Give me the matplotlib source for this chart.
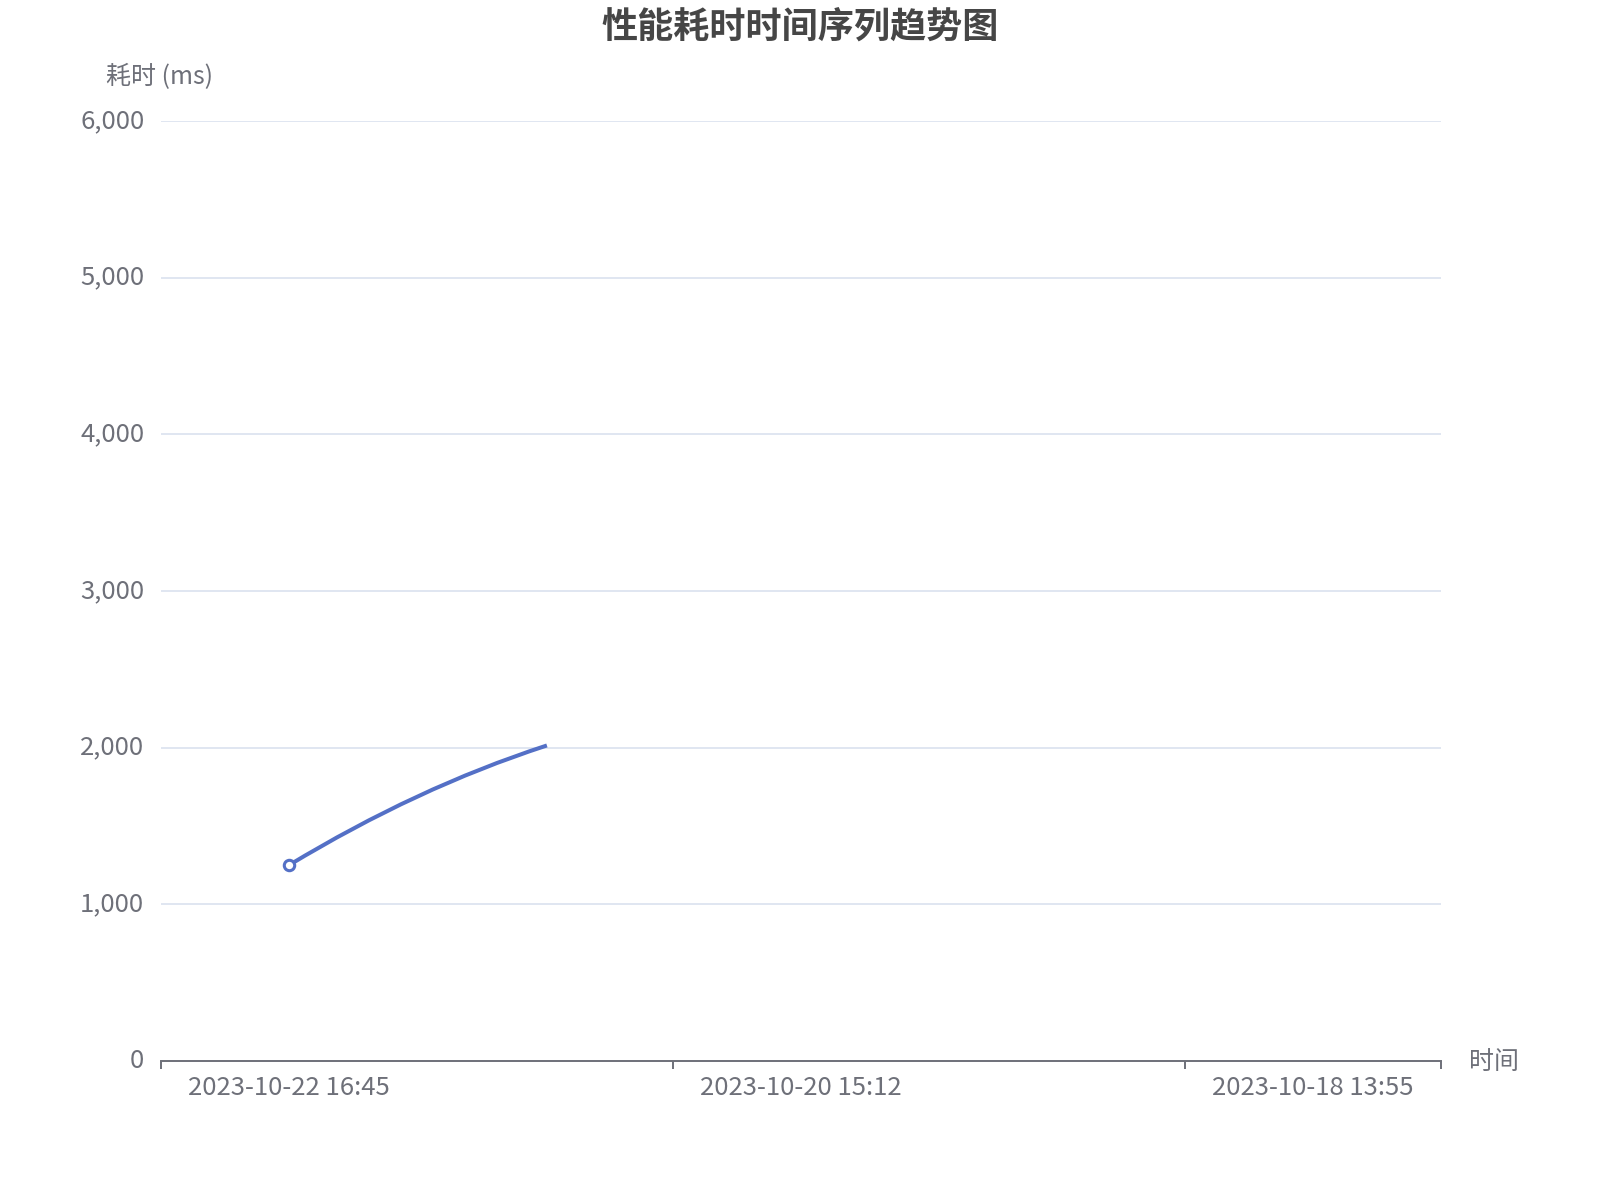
# 性能耗时时间序列趋势图を再現する
import matplotlib.pyplot as plt
from matplotlib.path import Path
from matplotlib.patches import PathPatch
from matplotlib.ticker import FuncFormatter
from matplotlib.transforms import ScaledTranslation

plt.rcParams['font.family'] = ['Noto Sans CJK SC', 'DejaVu Sans']

# データ
title = "性能耗时时间序列趋势图"
y_name = "耗时 (ms)"
x_name = "时间"
n_categories = 5
label_interval = 2
x_labels = ["2023-10-22 16:45", "2023-10-20 15:12", "2023-10-18 13:55"]
# 画像に描かれている最初の2点だけ (ms)
durations = [1250, 2010]
y_ticks = [0, 1000, 2000, 3000, 4000, 5000, 6000]

# スタイル
line_color = "#5470C6"
axis_color = "#6E7079"
grid_color = "#E0E6F1"
text_color = "#6E7079"
bend = 0.65  # 曲線のふくらみ

fig = plt.figure(figsize=(16, 12), dpi=100)
ax = fig.add_axes([161 / 1600, 1 - 1061 / 1200, 1280 / 1600, 940 / 1200])

ax.set_xlim(-0.5, n_categories - 0.5)
ax.set_ylim(y_ticks[0], y_ticks[-1])

# なめらかな線 (2次ベジェ)
y0, y1 = durations[0], durations[1]
ctrl = y0 + bend * (y1 - y0)
path = Path([(0, y0), (0.5, ctrl), (1, y1)], [Path.MOVETO, Path.CURVE3, Path.CURVE3])
ax.add_patch(PathPatch(path, fill=False, edgecolor=line_color, lw=2.9,
                       capstyle="projecting", zorder=3))
ax.plot([0], [durations[0]], "o", color=line_color, markerfacecolor="white",
        markersize=7.5, markeredgewidth=2.2, zorder=4)

# y軸
ax.set_yticks(y_ticks)
ax.yaxis.set_major_formatter(FuncFormatter(lambda v, _: f"{int(v):,}"))
ax.tick_params(axis="y", length=0, pad=12, labelsize=18.5, labelcolor=text_color)
ax.grid(axis="y", color=grid_color, lw=1.4)
ax.set_axisbelow(True)
shift_up = ScaledTranslation(0, 3 / 100, fig.dpi_scale_trans)
for lab in ax.get_yticklabels():
    lab.set_transform(lab.get_transform() + shift_up)

# x軸
bounds = [i - 0.5 for i in range(0, n_categories, label_interval)] + [n_categories - 0.5]
ax.set_xticks(bounds)
ax.set_xticklabels([""] * len(bounds))
ax.tick_params(axis="x", which="major", length=6, width=1.4, color=axis_color)
ax.set_xticks(list(range(0, n_categories, label_interval)), minor=True)
ax.set_xticklabels(x_labels, minor=True)
ax.tick_params(axis="x", which="minor", length=0, pad=10, labelsize=18.5,
               labelcolor=text_color)

for s in ["top", "right", "left"]:
    ax.spines[s].set_visible(False)
ax.spines["bottom"].set_color(axis_color)
ax.spines["bottom"].set_linewidth(1.4)

# 軸名とタイトル
fig.text(160 / 1600, 1 - 77 / 1200, y_name, ha="center", va="center",
         fontsize=18, color=text_color)
fig.text(1469 / 1600, 1 - 1062 / 1200, x_name, ha="left", va="center",
         fontsize=18, color=text_color)
fig.text(0.5, 1 - 27 / 1200, title, ha="center", va="center",
         fontsize=26, fontweight="bold", color="#464646")

fig.savefig("out.png")
